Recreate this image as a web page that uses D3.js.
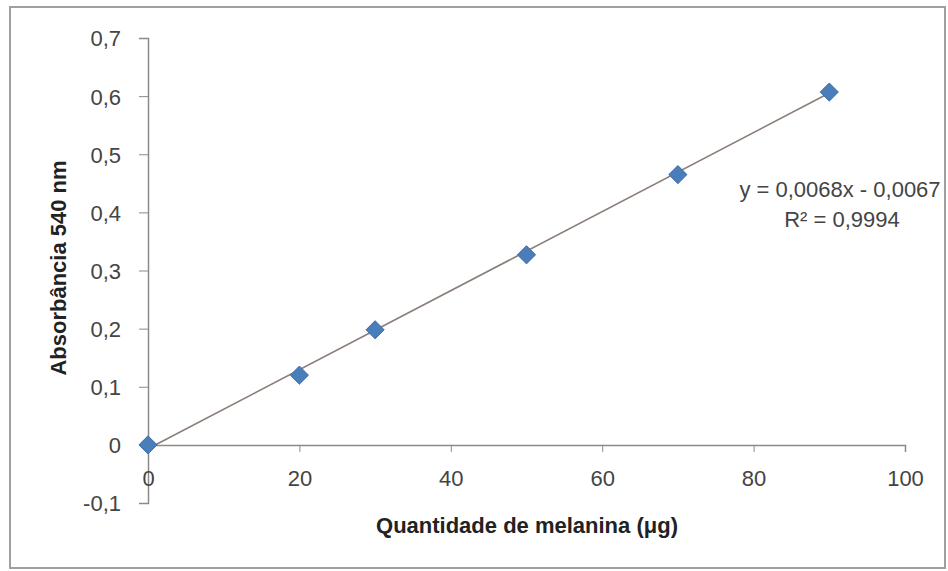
<!DOCTYPE html>
<html>
<head>
<meta charset="utf-8">
<script src="https://cdn.jsdelivr.net/npm/d3@7"></script>
<style>
  body { margin: 0; background: #fff; }
  text { font-family: "Liberation Sans", Arial, sans-serif; }
</style>
</head>
<body>
<svg id="chart" width="948" height="571"></svg>
<script>
// data
const quantities = [0, 20, 30, 50, 70, 90];
const absorbances = [0, 0.12, 0.198, 0.327, 0.465, 0.607];
const xTicks = [0, 20, 40, 60, 80, 100];
const yTicks = [-0.1, 0, 0.1, 0.2, 0.3, 0.4, 0.5, 0.6, 0.7];
const slope = 0.0068;
const intercept = -0.0067;
const equationLabel = 'y = 0,0068x - 0,0067';
const r2Label = 'R² = 0,9994';
const xTitle = 'Quantidade de melanina (μg)';
const yTitle = 'Absorbância 540 nm';

const svg = d3.select('#chart');
const fmt = v => d3.format('.1~f')(v).replace('.', ',').replace('−', '-');

// outer chart border
svg.append('rect')
  .attr('x', 10).attr('y', 7)
  .attr('width', 935).attr('height', 561)
  .attr('fill', '#fff')
  .attr('stroke', '#a0a0a0')
  .attr('stroke-width', 2);

const x = d3.scaleLinear().domain([0, 100]).range([148, 905]);
const y = d3.scaleLinear().domain([-0.1, 0.7]).range([503, 38]);

// y axis
const yAxis = svg.append('g')
  .attr('transform', `translate(${x(0)},0)`)
  .call(d3.axisLeft(y).tickValues(yTicks).tickSize(9).tickPadding(18).tickFormat(fmt));

// x axis at y = 0
const xAxis = svg.append('g')
  .attr('transform', `translate(0,${y(0)})`)
  .call(d3.axisBottom(x).tickValues(xTicks).tickSize(7).tickPadding(19).tickFormat(d3.format('d')));

[xAxis, yAxis].forEach(g => {
  g.select('.domain').attr('stroke', '#8a8a8a').attr('stroke-width', 1.5);
  g.selectAll('.tick line').attr('stroke', '#8a8a8a');
  g.selectAll('.tick text')
    .attr('fill', '#444')
    .style('font-size', '22px');
});
yAxis.selectAll('.tick text').attr('dy', '0.36em');

// trendline
svg.append('line')
  .attr('x1', x(0)).attr('y1', y(intercept))
  .attr('x2', x(90)).attr('y2', y(slope * 90 + intercept))
  .attr('stroke', '#8b7e78')
  .attr('stroke-width', 1.6);

// markers
svg.append('g')
  .selectAll('path')
  .data(quantities.map((q, i) => [q, absorbances[i]]))
  .join('path')
  .attr('transform', d => `translate(${x(d[0])},${y(d[1])})`)
  .attr('d', d3.symbol(d3.symbolDiamond2, 210))
  .attr('fill', '#4a7ebb')
  .attr('stroke', '#3d6ca8')
  .attr('stroke-width', 1);

// equation labels
svg.append('text')
  .attr('x', 840).attr('y', 197)
  .attr('text-anchor', 'middle')
  .attr('fill', '#444')
  .style('font-size', '22px')
  .text(equationLabel);
svg.append('text')
  .attr('x', 842).attr('y', 227)
  .attr('text-anchor', 'middle')
  .attr('fill', '#444')
  .style('font-size', '22px')
  .text(r2Label);

// axis titles
svg.append('text')
  .attr('x', 527).attr('y', 533)
  .attr('text-anchor', 'middle')
  .attr('fill', '#222')
  .style('font-size', '22px')
  .style('font-weight', 'bold')
  .text(xTitle);
svg.append('text')
  .attr('transform', 'translate(66,268) rotate(-90)')
  .attr('text-anchor', 'middle')
  .attr('fill', '#222')
  .style('font-size', '22px')
  .style('font-weight', 'bold')
  .text(yTitle);
</script>
</body>
</html>
